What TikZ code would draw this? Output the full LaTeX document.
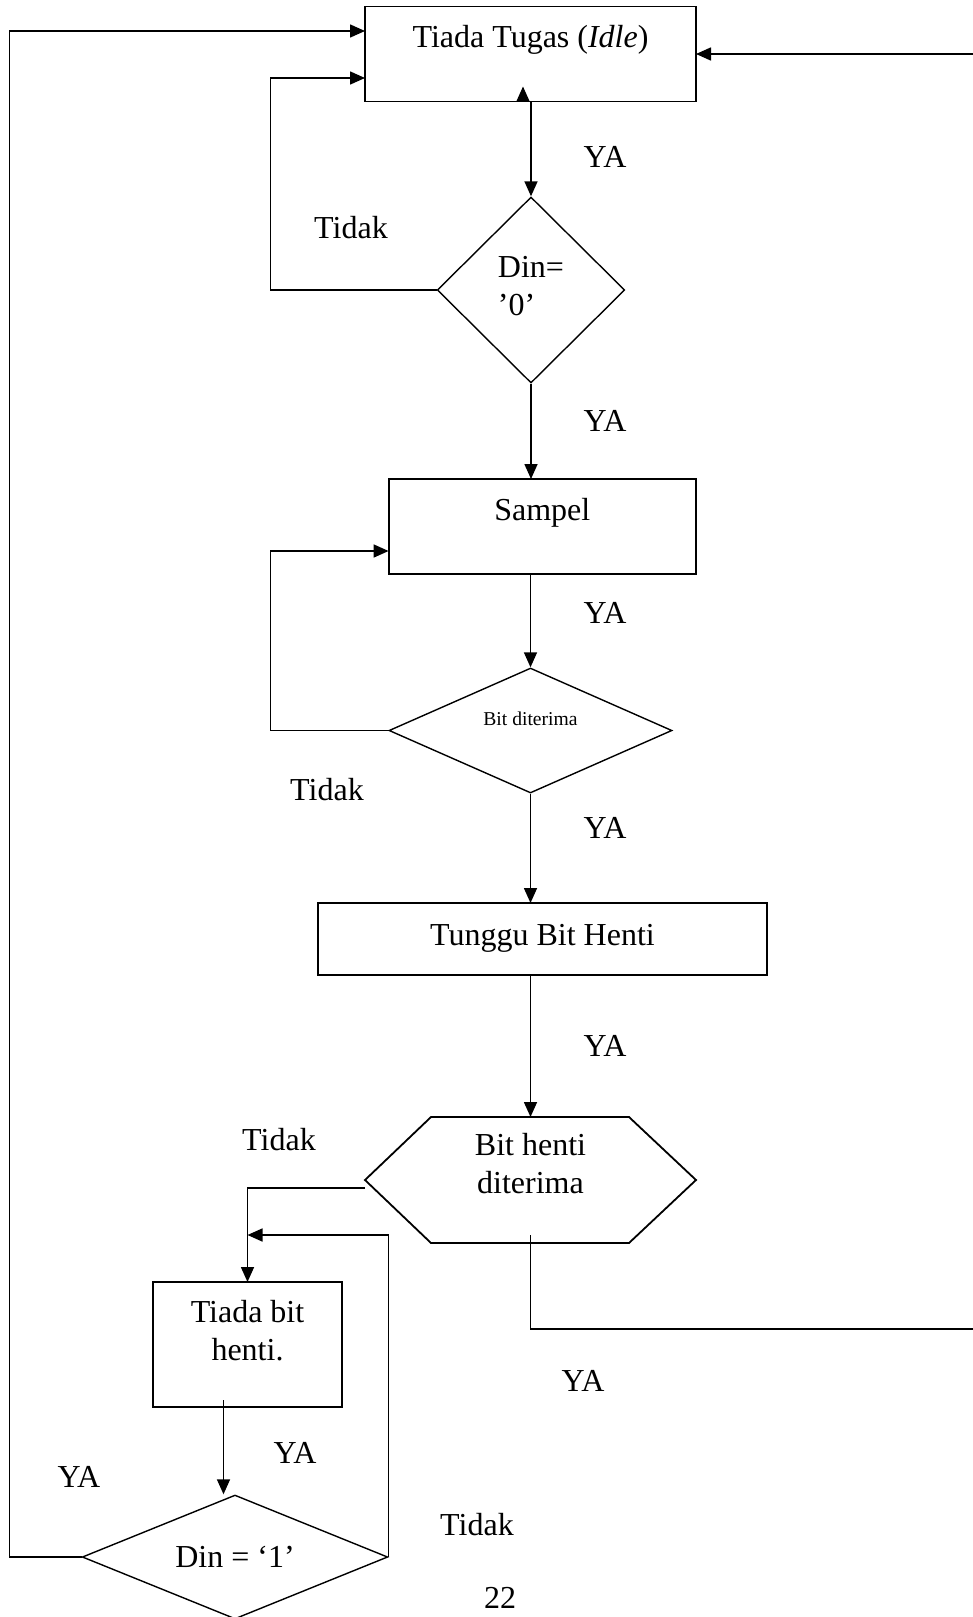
\documentclass[tikz,border=0pt]{standalone}
\usepackage{fontspec}
\setmainfont{Liberation Serif}
\usetikzlibrary{arrows.meta,calc,shapes.geometric}
\tikzset{
	procbox/.style={draw, line width=0.9pt, inner sep=0pt, outer sep=0pt},
	decision/.style={draw, diamond, line width=0.7pt, inner sep=0pt},
	flow/.style={line width=0.8pt, -{Triangle[length=7.5pt,width=6.5pt]}},
	wire/.style={line width=0.8pt},
	tag/.style={inner sep=0pt}
}
\newcommand{\duabaris}[3][c]{\begin{tabular}[t]{@{}#1@{}}#2\\#3\end{tabular}}

\begin{document}
\begin{tikzpicture}[x=0.5pt, y=-0.5pt, font=\fontsize{16}{19}\selectfont]
		\useasboundingbox (0,0) rectangle (973,1617);

		% Idle state
		\node[procbox, minimum width=165.5pt, text height=20.5pt, text depth=27pt] (idle) at (530.5,54) {Tiada Tugas (\textit{Idle})};

		% Start bit test
		\node[decision, aspect=1, minimum width=93.75pt, minimum height=93pt, text height=12pt, text depth=25pt] (din0) at (531,290) {\duabaris[l]{Din=}{'0'}};

		% Sampling state and its test
		\node[procbox, minimum width=153.7pt, text height=20.5pt, text depth=27pt] (sampel) at (542.3,526.5) {Sampel};
		\node[decision, aspect=2.26, minimum width=141.5pt, minimum height=62.5pt, text height=7pt, text depth=12.5pt, font=\fontsize{9.8}{12}\selectfont] (bitok) at (530.5,730.5) {Bit diterima};

		% Waiting for the stop bit
		\node[procbox, minimum width=224.5pt, text height=21pt, text depth=15pt] (tunggu) at (542.5,939) {Tunggu Bit Henti};

		% Stop bit test (hexagon drawn round the node)
		\node[minimum width=165.5pt, text height=19pt, text depth=44pt, inner sep=0pt, outer sep=0pt] (bhenti) at (530.5,1180) {\duabaris{Bit henti}{diterima}};
		\draw[line width=0.9pt] (bhenti.west) -- ($(bhenti.north west)+(66,0)$) -- ($(bhenti.north east)+(-67,0)$) -- (bhenti.east) -- ($(bhenti.south east)+(-67,0)$) -- ($(bhenti.south west)+(66,0)$) -- cycle;

		% No stop bit state and its test
		\node[procbox, minimum width=94.5pt, text height=20pt, text depth=42.5pt] (tiada) at (247.5,1344.5) {\duabaris{Tiada bit}{henti.}};
		\node[decision, aspect=2.46, minimum width=152.75pt, minimum height=62pt] (din1) at (235,1557) {Din = `1'};

		% Main downward flow
		\draw[flow] (idle.south -| din0.north) -- (din0.north);
		\draw[flow] ($(idle.south)+(-7.5,0)$) -- ++(0,-15);
		\draw[flow] (din0.south) -- (din0.south |- sampel.north);
		\draw[flow] (sampel.south -| bitok.north) -- (bitok.north);
		\draw[flow] (bitok.south) -- (bitok.south |- tunggu.north);
		\draw[flow] (tunggu.south -| bhenti.north) -- (bhenti.north);

		% Loops back on Tidak
		\draw[flow] (din0.west) -- ++(-166.25,0) |- ($(idle.west)+(0,24)$);
		\draw[flow] (bitok.west) -- ++(-118,0) |- ($(sampel.west)+(0,24.5)$);
		\draw[flow] ($(bhenti.west)+(0,8)$) -| (tiada.north);
		\draw[flow] (din1.east) |- ($(tiada.north)+(0,-47)$);

		% From no stop bit to the Din test
		\coordinate (t1) at ($(tiada.south)+(-24,-7)$);
		\draw[flow] (t1) -- (t1 |- din1.north);

		% Return rails to the idle state
		\draw[flow] (din1.west) -- ++(-72,0) |- ($(idle.west)+(0,-23)$);
		\coordinate (h1) at ($(bhenti.south)+(0,-8)$);
		\coordinate (kanan) at (975,1329);
		\draw[flow] (h1) |- (kanan) |- (idle.east);

		% Branch labels
		\node[tag] (ya1) at (605,157) {YA};
		\node[tag] (tidak1) at (351,228) {Tidak};
		\node[tag] (ya2) at (605,421) {YA};
		\node[tag] (ya3) at (605,613) {YA};
		\node[tag] (tidak2) at (327,790) {Tidak};
		\node[tag] (ya4) at (605,828) {YA};
		\node[tag] (ya5) at (605,1046) {YA};
		\node[tag] (tidak3) at (279,1140) {Tidak};
		\node[tag] (ya6) at (583,1381) {YA};
		\node[tag] (ya7) at (295,1453) {YA};
		\node[tag] (ya8) at (79,1477) {YA};
		\node[tag] (tidak4) at (477,1525) {Tidak};

		% Page number
		\node[tag, anchor=base] (hal) at (500,1608) {22};
	\end{tikzpicture}
\end{document}
